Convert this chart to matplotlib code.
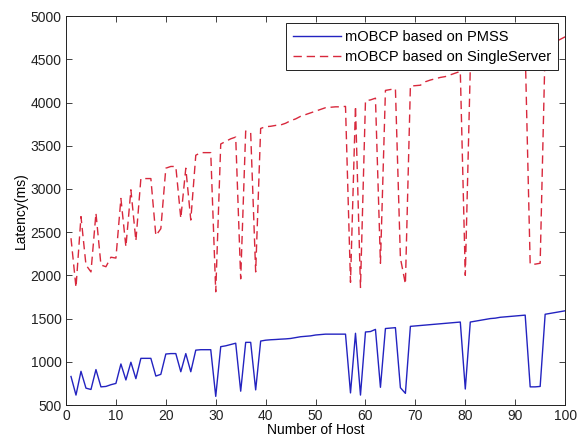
import numpy as np
import matplotlib
matplotlib.use('Agg')
import matplotlib.pyplot as plt

plt.rcParams['font.family'] = ['Liberation Sans', 'DejaVu Sans']

# number of hosts 1..100
hosts = np.arange(1, 101)

# latency of mOBCP based on PMSS (ms)
pmss = [830, 615, 890, 695, 680, 910, 710, 715, 735, 750,
        975, 790, 995, 805, 1040, 1040, 1040, 835, 855, 1090,
        1095, 1095, 885, 1095, 885, 1135, 1140, 1140, 1140, 600,
        1175, 1185, 1200, 1215, 660, 1225, 1225, 675, 1240, 1250,
        1255, 1258, 1262, 1265, 1270, 1280, 1290, 1295, 1300, 1310,
        1315, 1320, 1320, 1320, 1320, 1320, 640, 1330, 615, 1345,
        1350, 1375, 705, 1385, 1390, 1395, 700, 635, 1410, 1415,
        1420, 1425, 1430, 1435, 1440, 1445, 1450, 1455, 1460, 685,
        1460, 1470, 1480, 1490, 1500, 1505, 1515, 1520, 1525, 1530,
        1535, 1540, 710, 710, 715, 1550, 1560, 1570, 1580, 1590]

# latency of mOBCP based on SingleServer (ms)
single = [2430, 1860, 2680, 2120, 2040, 2720, 2120, 2100, 2210, 2200,
          2890, 2330, 2990, 2400, 3120, 3120, 3120, 2460, 2540, 3240,
          3260, 3260, 2660, 3240, 2640, 3390, 3420, 3420, 3420, 1810,
          3520, 3550, 3580, 3600, 1960, 3670, 3650, 2040, 3700, 3720,
          3725, 3735, 3740, 3760, 3790, 3810, 3840, 3860, 3880, 3900,
          3920, 3940, 3945, 3950, 3950, 3955, 1920, 3960, 1860, 4020,
          4030, 4050, 2140, 4140, 4150, 4160, 2200, 1900, 4190, 4195,
          4200, 4240, 4260, 4275, 4290, 4300, 4320, 4340, 4360, 2000,
          4400, 4420, 4440, 4460, 4480, 4500, 4530, 4550, 4570, 4590,
          4600, 4620, 2130, 2130, 2140, 4650, 4680, 4700, 4730, 4760]

fig = plt.figure(figsize=(5.77, 4.44), dpi=100)
ax = fig.add_axes([0.1144, 0.0878, 0.865, 0.876])

ax.plot(hosts, pmss, color='#2323c0', lw=1.0, label='mOBCP based on PMSS')
ax.plot(hosts, single, color='#d8283c', lw=1.0, dashes=(6, 3.5),
        label='mOBCP based on SingleServer')

ax.set_xlim(0, 100)
ax.set_ylim(500, 5000)
ax.set_xticks(np.arange(0, 101, 10))
ax.set_yticks(np.arange(500, 5001, 500))
ax.tick_params(direction='in', top=True, right=True, labelsize=10,
               length=4, width=0.6, colors='#222222', pad=3)
for sp in ax.spines.values():
    sp.set_linewidth(0.7)
    sp.set_color('#222222')

ax.set_xlabel('Number of Host', fontsize=10, labelpad=0)
ax.set_ylabel('Latency(ms)', fontsize=10, labelpad=2)

leg = ax.legend(loc='upper right', fontsize=10.5, fancybox=False,
                framealpha=1, edgecolor='#222222', borderaxespad=0.5,
                handlelength=3.3, handletextpad=0.3, borderpad=0.45,
                labelspacing=0.4)
leg.get_frame().set_linewidth(0.7)

plt.savefig('out.png', dpi=100)
plt.close()
